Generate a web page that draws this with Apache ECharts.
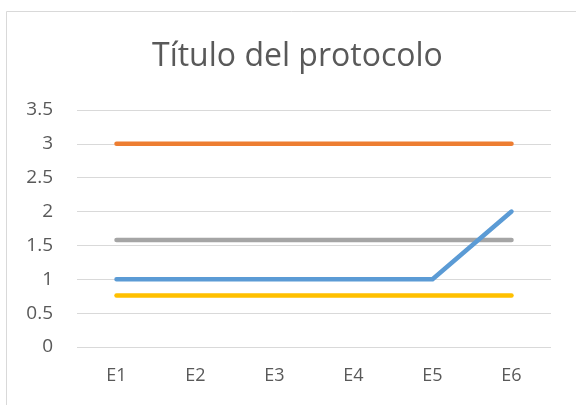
<!DOCTYPE html>
<html>
<head>
<meta charset="utf-8">
<script src="https://cdn.jsdelivr.net/npm/echarts@6/dist/echarts.min.js"></script>
<style>
html,body{margin:0;padding:0;background:#fff;}
#chart{width:576px;height:405px;}
</style>
</head>
<body>
<div id="chart"></div>
<script>
const categories = ['E1','E2','E3','E4','E5','E6'];
const serieAzul = [1, 1, 1, 1, 1, 2];
const serieNaranja = [3, 3, 3, 3, 3, 3];
const serieGris = [1.58, 1.58, 1.58, 1.58, 1.58, 1.58];
const serieAmarilla = [0.76, 0.76, 0.76, 0.76, 0.76, 0.76];
const yTicks = [0, 0.5, 1, 1.5, 2, 2.5, 3, 3.5];

const chart = echarts.init(document.getElementById('chart'));
const font = 'Open Sans, Noto Sans, sans-serif';
function lineSeries(name, data, color, z) {
  return {
    name: name, type: 'line', data: data, symbol: 'none', z: z,
    lineStyle: { color: color, width: 4.5, cap: 'round', join: 'round' },
    itemStyle: { color: color }, animation: false
  };
}
chart.setOption({
  animation: false,
  backgroundColor: '#ffffff',
  graphic: [{
    type: 'rect', shape: { x: 6.5, y: 11.5, width: 700, height: 600 },
    style: { fill: 'none', stroke: '#d9d9d9', lineWidth: 1 }, silent: true, z: -10
  }],
  title: {
    text: 'Título del protocolo', left: 147, top: 36,
    textStyle: { color: '#595959', fontSize: 32, fontWeight: 400, fontFamily: font }
  },
  grid: { left: 77, right: 25, top: 110, bottom: 58, containLabel: false },
  xAxis: {
    type: 'category', data: categories, boundaryGap: true,
    axisLine: { show: false }, axisTick: { show: false },
    axisLabel: { color: '#595959', fontSize: 18, fontFamily: font, margin: 20 },
    splitLine: { show: false }
  },
  yAxis: {
    type: 'value', min: yTicks[0], max: yTicks[yTicks.length - 1], interval: 0.5,
    axisLine: { show: false }, axisTick: { show: false },
    axisLabel: { color: '#595959', fontSize: 19, fontFamily: font, margin: 24,
      formatter: v => String(v) },
    splitLine: { lineStyle: { color: '#d9d9d9', width: 1 } }
  },
  series: [
    lineSeries('Serie 2', serieNaranja, '#ED7D31', 2),
    lineSeries('Serie 3', serieGris, '#A5A5A5', 3),
    lineSeries('Serie 4', serieAmarilla, '#FFC000', 4),
    lineSeries('Serie 1', serieAzul, '#5B9BD5', 5)
  ]
});
</script>
</body>
</html>
